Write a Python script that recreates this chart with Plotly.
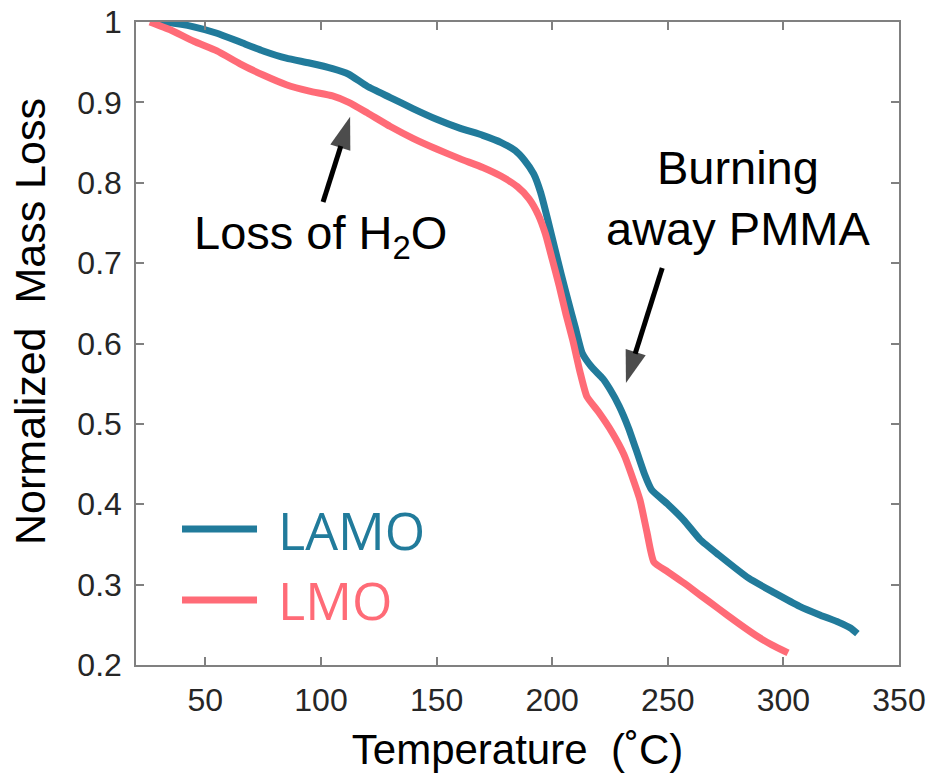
import plotly.graph_objects as go

# TGA curves: temperature (°C) vs normalized remaining mass
lamo_temp = [27, 35, 45, 55, 65, 75, 85, 95, 105, 112, 120, 130, 140, 150, 160,
             170, 178, 184, 188, 192, 195, 198, 201, 204, 207, 210, 213, 217, 222,
             225, 229, 233, 237, 240, 243, 250, 257, 264, 272, 285, 296, 307, 316,
             324, 329, 332]
lamo_mass = [1.000, 0.999, 0.994, 0.986, 0.975, 0.964, 0.955, 0.949, 0.942, 0.935,
             0.920, 0.906, 0.892, 0.879, 0.868, 0.859, 0.850, 0.840, 0.828, 0.811,
             0.788, 0.755, 0.720, 0.685, 0.652, 0.620, 0.588, 0.571, 0.556, 0.543,
             0.522, 0.495, 0.462, 0.437, 0.418, 0.400, 0.380, 0.356, 0.337, 0.308,
             0.290, 0.273, 0.262, 0.253, 0.246, 0.239]

lmo_temp = [26, 35, 45, 55, 65, 75, 85, 95, 105, 112, 120, 130, 140, 150, 160, 170,
            178, 185, 190, 194, 197, 200, 203, 206, 209, 212, 215, 220, 226, 231,
            235, 238, 241, 244, 250, 257, 264, 272, 280, 288, 295, 302]
lmo_mass = [1.000, 0.990, 0.976, 0.964, 0.948, 0.934, 0.922, 0.914, 0.908, 0.900,
            0.887, 0.870, 0.855, 0.842, 0.830, 0.819, 0.808, 0.795, 0.780, 0.760,
            0.737, 0.705, 0.672, 0.636, 0.603, 0.565, 0.534, 0.515, 0.489, 0.462,
            0.431, 0.405, 0.365, 0.328, 0.316, 0.302, 0.287, 0.270, 0.253, 0.237,
            0.225, 0.215]

series_names = ["LAMO", "LMO"]
series_colors = ["#217b9b", "#ff6b77"]

x_ticks = [50, 100, 150, 200, 250, 300, 350]
y_ticks = [0.2, 0.3, 0.4, 0.5, 0.6, 0.7, 0.8, 0.9, 1.0]
y_tick_text = ["0.2", "0.3", "0.4", "0.5", "0.6", "0.7", "0.8", "0.9", "1"]

# Callout arrows: (tail temperature, tail mass) -> (head temperature, head mass)
water_arrow_x = [100.9, 112.6]
water_arrow_y = [0.776, 0.882]
pmma_arrow_x = [247.6, 231.9]
pmma_arrow_y = [0.694, 0.551]

AX_COLOR = "#808080"
TICK_FONT = dict(family="Liberation Sans, Arial, sans-serif", size=32, color="#262626")
TITLE_FONT = dict(family="Liberation Sans, Arial, sans-serif", size=42, color="#000000")
NOTE_FONT = dict(family="Liberation Sans, Arial, sans-serif", size=47, color="#000000")
LEGEND_FONT_FAMILY = "Open Sans, sans-serif"

fig = go.Figure()
for xs, ys, name, color in [(lamo_temp, lamo_mass, series_names[0], series_colors[0]),
                            (lmo_temp, lmo_mass, series_names[1], series_colors[1])]:
    fig.add_trace(go.Scatter(x=xs, y=ys, mode="lines", name=name,
                             line=dict(color=color, width=7, shape="spline", smoothing=0.5),
                             showlegend=False))

# Arrows drawn as a shaft plus an arrow-shaped marker at the head
for ax_x, ax_y in [(water_arrow_x, water_arrow_y), (pmma_arrow_x, pmma_arrow_y)]:
    fig.add_trace(go.Scatter(x=ax_x, y=ax_y, mode="lines+markers", showlegend=False,
                             hoverinfo="skip",
                             line=dict(color="#000000", width=5),
                             marker=dict(symbol=["circle", "arrow"], size=[0, 34],
                                         angleref="previous", color="#000000",
                                         line=dict(width=0))))

axis_common = dict(showline=True, linecolor=AX_COLOR, linewidth=1.5, mirror="ticks",
                   ticks="inside", ticklen=8, tickwidth=1.5, tickcolor=AX_COLOR,
                   showgrid=False, zeroline=False, tickfont=TICK_FONT, automargin=False)

fig.update_xaxes(range=[20, 350], tickvals=x_ticks, ticklabelstandoff=6,
                 title=dict(text="Temperature\u00a0 (\u02daC)", font=TITLE_FONT, standoff=17),
                 **axis_common)
fig.update_yaxes(range=[0.2, 1.0], tickvals=y_ticks, ticktext=y_tick_text,
                 ticklabelstandoff=6, **axis_common)

# y-axis title, placed as a rotated label left of the tick labels
fig.add_annotation(xref="paper", yref="paper", x=-0.139, y=0.535, textangle=-90,
                   xanchor="center", yanchor="middle", showarrow=False,
                   text="Normalized\u00a0 Mass Loss",
                   font=dict(family=TITLE_FONT["family"], size=43, color="#000000"))

# Legend drawn as sample lines with coloured labels
legend_rows = [(0.2115, series_names[0], series_colors[0]),
               (0.1011, series_names[1], series_colors[1])]
for ypos, name, color in legend_rows:
    fig.add_shape(type="line", xref="paper", yref="paper",
                  x0=0.0603, x1=0.1586, y0=ypos, y1=ypos,
                  line=dict(color=color, width=7))
    fig.add_annotation(xref="paper", yref="paper", x=0.183, y=ypos,
                       xanchor="left", yanchor="middle", showarrow=False,
                       text=name, font=dict(family=LEGEND_FONT_FAMILY, size=52, color=color))

# Callout labels
fig.add_annotation(x=100.0, y=0.773, xref="x", yref="y", text="Loss of H<sub>2</sub>O",
                   showarrow=False, font=NOTE_FONT, xanchor="center", yanchor="top")
fig.add_annotation(x=280.2, y=0.781, xref="x", yref="y", text="Burning<br>away PMMA",
                   showarrow=False, font=NOTE_FONT, xanchor="center", yanchor="middle")

fig.update_layout(width=929, height=776, margin=dict(l=136, r=30, t=22, b=111),
                  plot_bgcolor="white", paper_bgcolor="white")

fig.write_html("out.html")
